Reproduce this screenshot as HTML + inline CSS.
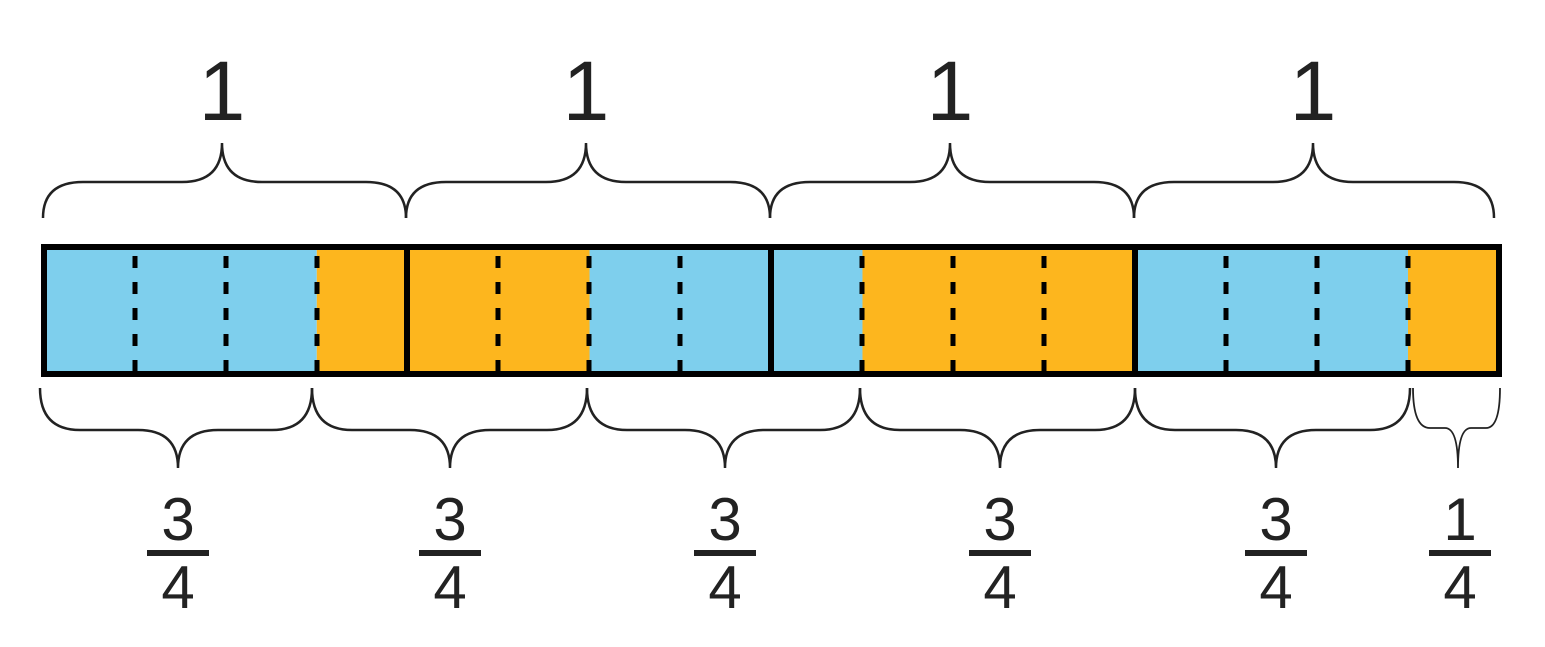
<!DOCTYPE html>
<html><head><style>body{margin:0;background:#fff}svg{display:block}</style></head>
<body>
<svg width="1545" height="647" viewBox="0 0 1545 647" xmlns="http://www.w3.org/2000/svg">
<g id="cells"></g>
<script>
</script>
<!-- cells -->
<rect x="44" y="247" width="272.8" height="127" fill="#7ecfed"/>
<rect x="316.8" y="247" width="272.8" height="127" fill="#fdb61e"/>
<rect x="589.6" y="247" width="272.8" height="127" fill="#7ecfed"/>
<rect x="862.4" y="247" width="272.8" height="127" fill="#fdb61e"/>
<rect x="1135.2" y="247" width="272.8" height="127" fill="#7ecfed"/>
<rect x="1408" y="247" width="91" height="127" fill="#fdb61e"/>
<!-- wait: fix third segment colors -->
<rect x="589.6" y="247" width="181.9" height="127" fill="#7ecfed"/>
<rect x="771.5" y="247" width="90.9" height="127" fill="#7ecfed"/>
<g stroke="#000" stroke-width="5" stroke-dasharray="12 14" stroke-dashoffset="-6">
<line x1="135" y1="250" x2="135" y2="374"/>
<line x1="226" y1="250" x2="226" y2="374"/>
<line x1="317" y1="250" x2="317" y2="374"/>
<line x1="498" y1="250" x2="498" y2="374"/>
<line x1="589" y1="250" x2="589" y2="374"/>
<line x1="680" y1="250" x2="680" y2="374"/>
<line x1="862" y1="250" x2="862" y2="374"/>
<line x1="953" y1="250" x2="953" y2="374"/>
<line x1="1044" y1="250" x2="1044" y2="374"/>
<line x1="1226" y1="250" x2="1226" y2="374"/>
<line x1="1317" y1="250" x2="1317" y2="374"/>
<line x1="1408" y1="250" x2="1408" y2="374"/>
</g>
<g stroke="#000" stroke-width="6" fill="none">
<rect x="44" y="247" width="1455" height="127"/>
<line x1="407" y1="247" x2="407" y2="374"/>
<line x1="771" y1="247" x2="771" y2="374"/>
<line x1="1135" y1="247" x2="1135" y2="374"/>
</g>
<g stroke="#222" stroke-width="2.5" fill="none">
<path d="M43 218 Q43 182 83 182 L182 182 Q222 182 222 143 Q222 182 262 182 L366 182 Q406 182 406 218"/>
<path d="M406 218 Q406 182 446 182 L546 182 Q586 182 586 143 Q586 182 626 182 L730 182 Q770 182 770 218"/>
<path d="M770 218 Q770 182 810 182 L910 182 Q950 182 950 143 Q950 182 990 182 L1094 182 Q1134 182 1134 218"/>
<path d="M1134 218 Q1134 182 1174 182 L1273 182 Q1313 182 1313 143 Q1313 182 1353 182 L1454 182 Q1494 182 1494 218"/>
<path d="M40 388 Q40 430 80 430 L138 430 Q178 430 178 468 Q178 430 218 430 L272 430 Q312 430 312 388"/>
<path d="M312 388 Q312 430 352 430 L410 430 Q450 430 450 468 Q450 430 490 430 L547 430 Q587 430 587 388"/>
<path d="M587 388 Q587 430 627 430 L685 430 Q725 430 725 468 Q725 430 765 430 L820 430 Q860 430 860 388"/>
<path d="M860 388 Q860 430 900 430 L960 430 Q1000 430 1000 468 Q1000 430 1040 430 L1095 430 Q1135 430 1135 388"/>
<path d="M1135 388 Q1135 430 1175 430 L1236 430 Q1276 430 1276 468 Q1276 430 1316 430 L1370 430 Q1410 430 1410 388"/>
<path stroke-width="1.8" d="M1413 388 Q1413 428 1430 428 L1445 428 Q1458 428 1458 468 Q1458 428 1471 428 L1486 428 Q1500 428 1500 388"/>
</g>
<g font-family="Liberation Sans, sans-serif" fill="#222" text-anchor="middle">
<text x="222" y="120" font-size="84">1</text>
<text x="586" y="120" font-size="84">1</text>
<text x="950" y="120" font-size="84">1</text>
<text x="1313" y="120" font-size="84">1</text>
<g font-size="60">
<text x="178" y="540">3</text><text x="178" y="608">4</text>
<text x="450" y="540">3</text><text x="450" y="608">4</text>
<text x="725" y="540">3</text><text x="725" y="608">4</text>
<text x="1000" y="540">3</text><text x="1000" y="608">4</text>
<text x="1276" y="540">3</text><text x="1276" y="608">4</text>
<text x="1460" y="540">1</text><text x="1460" y="608">4</text>
</g>
</g>
<g fill="#222">
<rect x="147" y="550" width="62" height="6"/>
<rect x="419" y="550" width="62" height="6"/>
<rect x="694" y="550" width="62" height="6"/>
<rect x="969" y="550" width="62" height="6"/>
<rect x="1245" y="550" width="62" height="6"/>
<rect x="1429" y="550" width="62" height="6"/>
</g>
</svg>
</body></html>
